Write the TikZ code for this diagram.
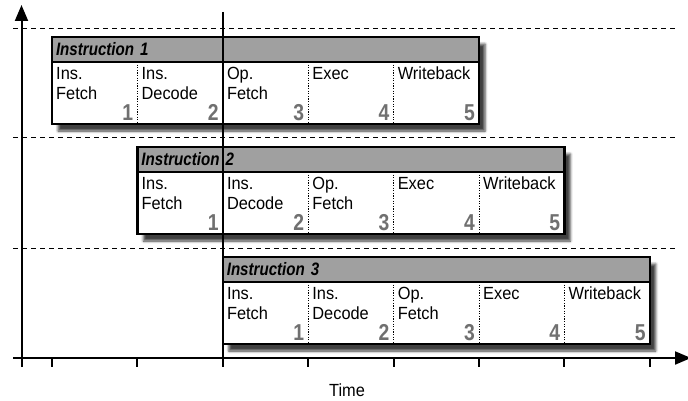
\documentclass[tikz,border=0pt]{standalone}
\usepackage{fontspec}
\setmainfont{Liberation Sans}[FakeStretch=0.93]
\newfontfamily\condfont{Liberation Sans}[FakeStretch=0.84]
\usetikzlibrary{arrows.meta,positioning,shadows.blur}
\definecolor{headgrey}{HTML}{A0A0A0}
\definecolor{numgrey}{HTML}{707070}

\begin{document}
\begin{tikzpicture}[
  x=1pt, y=-1pt,
  font=\fontsize{17.6}{20}\selectfont,
  >={Triangle[length=16pt,width=13pt]},
  instrbox/.style={
    draw=black,
    fill=white,
    line width=2.2pt,
    minimum width=427pt,
    minimum height=87pt,
    inner sep=0pt,
    outer sep=0pt,
    anchor=north west,
    blur shadow={shadow xshift=6pt, shadow yshift=-7pt, shadow blur radius=2.5pt, shadow opacity=75}
  },
  headbar/.style={
    draw=black,
    fill=headgrey,
    line width=2.2pt,
    text width=419pt,
    inner xsep=4pt,
    inner ysep=0pt,
    outer sep=0pt,
    minimum height=25pt,
    align=left,
    anchor=north west,
    font=\condfont\bfseries\itshape\fontsize{18}{18}\selectfont
  },
  stagecell/.style={
    minimum width=85.4pt,
    minimum height=62pt,
    inner sep=0pt,
    outer sep=0pt,
    anchor=north west
  },
  stagetext/.style={
    anchor=north west,
    align=left,
    inner xsep=4pt,
    inner ysep=5pt
  },
  stagenum/.style={
    anchor=south east,
    inner xsep=4pt,
    inner ysep=3pt,
    text=numgrey,
    font=\condfont\bfseries\fontsize{23}{23}\selectfont
  },
  stagesep/.style={
    line width=1pt,
    dash pattern=on 1.2pt off 1.4pt
  },
  axisline/.style={
    line width=2pt
  },
  gridline/.style={
    line width=1pt,
    dash pattern=on 5pt off 4pt
  }
]
  \useasboundingbox (0,0) rectangle (688,401);

  % =========================================================================
  % CLOCK PERIOD GUIDES
  % =========================================================================
  \draw[gridline] (13,29) -- (678,29);
  \draw[gridline] (13,138) -- (678,138);
  \draw[gridline] (13,248) -- (678,248);

  % =========================================================================
  % INSTRUCTION 1
  % =========================================================================
  \node[instrbox] (i1box) at (52,37) {};
  \node[headbar] (i1head) at (i1box.north west) {Instruction 1};
  \node[stagecell, label={[stagetext]north west:Ins.\\Fetch}, label={[stagenum]south east:1}] (i1s1) at (i1head.south west) {};
  \node[stagecell, label={[stagetext]north west:Ins.\\Decode}, label={[stagenum]south east:2}] (i1s2) at (i1s1.north east) {};
  \node[stagecell, label={[stagetext]north west:Op.\\Fetch}, label={[stagenum]south east:3}] (i1s3) at (i1s2.north east) {};
  \node[stagecell, label={[stagetext]north west:Exec}, label={[stagenum]south east:4}] (i1s4) at (i1s3.north east) {};
  \node[stagecell, label={[stagetext]north west:Writeback}, label={[stagenum]south east:5}] (i1s5) at (i1s4.north east) {};

  \draw[stagesep] (i1s1.north east) -- (i1s1.south east);
  \draw[stagesep] (i1s2.north east) -- (i1s2.south east);
  \draw[stagesep] (i1s3.north east) -- (i1s3.south east);
  \draw[stagesep] (i1s4.north east) -- (i1s4.south east);

  % =========================================================================
  % INSTRUCTION 2
  % =========================================================================
  \node[instrbox] (i2box) at (137.4,147) {};
  \node[headbar] (i2head) at (i2box.north west) {Instruction 2};
  \node[stagecell, label={[stagetext]north west:Ins.\\Fetch}, label={[stagenum]south east:1}] (i2s1) at (i2head.south west) {};
  \node[stagecell, label={[stagetext]north west:Ins.\\Decode}, label={[stagenum]south east:2}] (i2s2) at (i2s1.north east) {};
  \node[stagecell, label={[stagetext]north west:Op.\\Fetch}, label={[stagenum]south east:3}] (i2s3) at (i2s2.north east) {};
  \node[stagecell, label={[stagetext]north west:Exec}, label={[stagenum]south east:4}] (i2s4) at (i2s3.north east) {};
  \node[stagecell, label={[stagetext]north west:Writeback}, label={[stagenum]south east:5}] (i2s5) at (i2s4.north east) {};

  \draw[stagesep] (i2s1.north east) -- (i2s1.south east);
  \draw[stagesep] (i2s2.north east) -- (i2s2.south east);
  \draw[stagesep] (i2s3.north east) -- (i2s3.south east);
  \draw[stagesep] (i2s4.north east) -- (i2s4.south east);

  % =========================================================================
  % INSTRUCTION 3
  % =========================================================================
  \node[instrbox] (i3box) at (222.8,257) {};
  \node[headbar] (i3head) at (i3box.north west) {Instruction 3};
  \node[stagecell, label={[stagetext]north west:Ins.\\Fetch}, label={[stagenum]south east:1}] (i3s1) at (i3head.south west) {};
  \node[stagecell, label={[stagetext]north west:Ins.\\Decode}, label={[stagenum]south east:2}] (i3s2) at (i3s1.north east) {};
  \node[stagecell, label={[stagetext]north west:Op.\\Fetch}, label={[stagenum]south east:3}] (i3s3) at (i3s2.north east) {};
  \node[stagecell, label={[stagetext]north west:Exec}, label={[stagenum]south east:4}] (i3s4) at (i3s3.north east) {};
  \node[stagecell, label={[stagetext]north west:Writeback}, label={[stagenum]south east:5}] (i3s5) at (i3s4.north east) {};

  \draw[stagesep] (i3s1.north east) -- (i3s1.south east);
  \draw[stagesep] (i3s2.north east) -- (i3s2.south east);
  \draw[stagesep] (i3s3.north east) -- (i3s3.south east);
  \draw[stagesep] (i3s4.north east) -- (i3s4.south east);

  % =========================================================================
  % AXES
  % =========================================================================
  \coordinate (ytip) at (21.5,5);
  \coordinate (xtip) at (691,358);
  \draw[axisline,->] (21.5,367) -- (ytip);
  \draw[axisline,->] (13,358) -- (xtip);
  \foreach \k in {0,...,7}
    \draw[axisline] (52+85.4*\k,358) -- ++(0,9);

  % current instant
  \draw[axisline] (i1s2.north east |- 0,12) -- (i1s2.north east |- 0,367);

  \node (timelabel) at (347,390) {Time};

\end{tikzpicture}
\end{document}
